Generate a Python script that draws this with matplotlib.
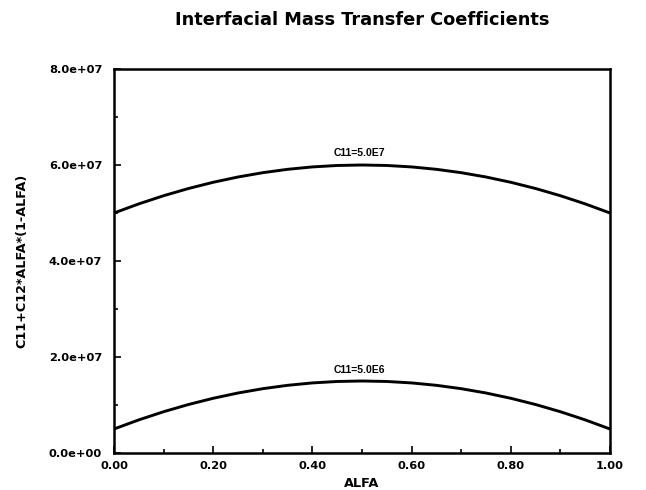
import matplotlib
matplotlib.use("Agg")
import matplotlib.pyplot as plt
from matplotlib.ticker import MultipleLocator, FormatStrFormatter

# ALFA values and curves C11 + C12*ALFA*(1-ALFA)
alfa = [0.00, 0.05, 0.10, 0.15, 0.20, 0.25, 0.30, 0.35, 0.40, 0.45, 0.50,
        0.55, 0.60, 0.65, 0.70, 0.75, 0.80, 0.85, 0.90, 0.95, 1.00]
c11_5e7 = [5.00e7, 5.19e7, 5.36e7, 5.51e7, 5.64e7, 5.75e7, 5.84e7, 5.91e7, 5.96e7, 5.99e7, 6.00e7,
           5.99e7, 5.96e7, 5.91e7, 5.84e7, 5.75e7, 5.64e7, 5.51e7, 5.36e7, 5.19e7, 5.00e7]
c11_5e6 = [0.50e7, 0.69e7, 0.86e7, 1.01e7, 1.14e7, 1.25e7, 1.34e7, 1.41e7, 1.46e7, 1.49e7, 1.50e7,
           1.49e7, 1.46e7, 1.41e7, 1.34e7, 1.25e7, 1.14e7, 1.01e7, 0.86e7, 0.69e7, 0.50e7]

curve_labels = ["C11=5.0E7", "C11=5.0E6"]
label_pos = [(0.495, 6.15e7), (0.495, 1.63e7)]
ytick_labels = ['0.0e+00', '2.0e+07', '4.0e+07', '6.0e+07', '8.0e+07']

plt.rcParams['font.family'] = ['DejaVu Sans']
plt.rcParams['font.weight'] = 'bold'

fig = plt.figure(figsize=(6.46, 4.90), dpi=100)
ax = fig.add_axes([114 / 646, 1 - 453 / 490, 496 / 646, 384 / 490])

ax.plot(alfa, c11_5e7, color='black', lw=2.1)
ax.plot(alfa, c11_5e6, color='black', lw=2.1)
for txt, (x, y) in zip(curve_labels, label_pos):
    ax.text(x, y, txt, ha='center', va='bottom', fontsize=7.5, fontweight='bold',
            family=['Liberation Sans', 'DejaVu Sans'])

ax.set_xlim(0, 1)
ax.set_ylim(0, 8e7)
ax.xaxis.set_major_locator(MultipleLocator(0.2))
ax.xaxis.set_minor_locator(MultipleLocator(0.1))
ax.yaxis.set_minor_locator(MultipleLocator(1e7))
ax.xaxis.set_major_formatter(FormatStrFormatter('%.2f'))
ax.set_yticks([0, 2e7, 4e7, 6e7, 8e7])
ax.set_yticklabels(ytick_labels)
ax.tick_params(which='both', direction='in', labelsize=8.2, width=1.2)
ax.tick_params(which='major', length=5)
ax.tick_params(which='minor', length=3)
ax.tick_params(axis='y', pad=8.5)
ax.tick_params(axis='x', pad=6)
for lbl in ax.get_xticklabels() + ax.get_yticklabels():
    lbl.set_fontweight('bold')
for s in ax.spines.values():
    s.set_linewidth(1.8)

ax.set_xlabel("ALFA", fontsize=9.3, fontweight='bold')
ax.xaxis.set_label_coords(0.5, -(477 - 453) / 384)
ax.set_ylabel("C11+C12*ALFA*(1-ALFA)", fontsize=9.2, fontweight='bold')
ax.yaxis.set_label_coords(-(114 - 28) / 496, 0.5)
fig.text(362 / 646, 1 - 20 / 490, "Interfacial Mass Transfer Coefficients",
         ha='center', va='center', fontsize=12.75, fontweight='bold')

fig.savefig("out.png", dpi=100)
